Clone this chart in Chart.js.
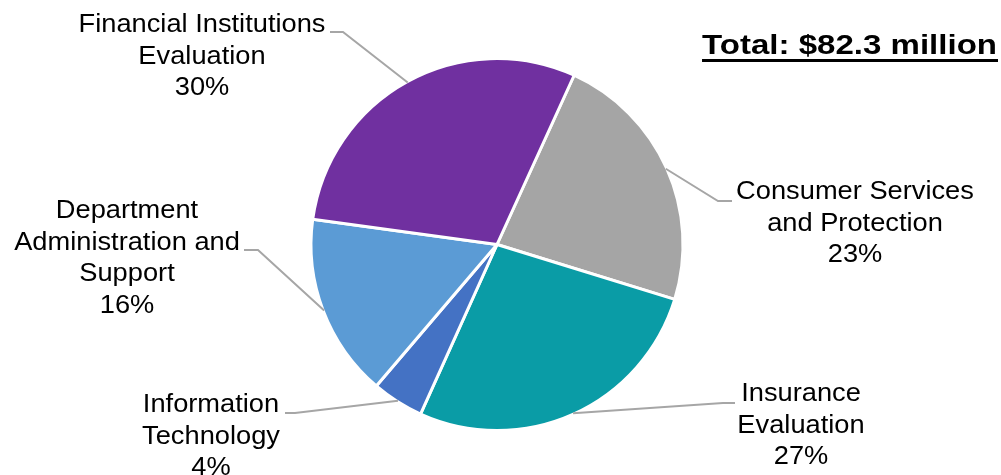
<!DOCTYPE html>
<html>
<head>
<meta charset="utf-8">
<script src="https://cdn.jsdelivr.net/npm/chart.js@4.4.0/dist/chart.umd.min.js"></script>
<style>
  html, body { margin: 0; padding: 0; background: #ffffff; }
  #wrap { width: 1001px; height: 475px; position: relative; }
</style>
</head>
<body>
<div id="wrap"><canvas id="c" width="1001" height="475"></canvas></div>
<script>
// Data (millions of dollars), clockwise order starting just right of 12 o'clock
const categories = [
  ["Consumer Services", "and Protection"],
  ["Insurance", "Evaluation"],
  ["Information", "Technology"],
  ["Department", "Administration and", "Support"],
  ["Financial Institutions", "Evaluation"]
];
const values = [18.9, 22.2, 3.7, 13.1, 24.4];
const colors = ["#A5A5A5", "#0A9CA6", "#4472C4", "#5B9BD5", "#7030A0"];
const titleText = "Total: $82.3 million";

const total = values.reduce((a, b) => a + b, 0);
const percentLabels = values.map(v => Math.round(v / total * 100) + "%");

// Label layout: text centre x, first line centre y, elbow point, line end point
const labelLayout = [
  { x: 855, y: 192, elbow: [718, 201], end: [732, 201] },
  { x: 801, y: 394, elbow: [723, 403], end: [735, 403] },
  { x: 211, y: 405, elbow: [295, 413], end: [285, 413] },
  { x: 127, y: 211, elbow: [258, 250], end: [244, 250] },
  { x: 202, y: 25,  elbow: [343, 32],  end: [330, 32] }
];
const FONT_SIZE = 25;
const SCALE_X = 1.09;
const LINE_H = 31.8;

const labelPlugin = {
  id: 'pieLabels',
  afterDatasetsDraw(chart) {
    const ctx = chart.ctx;
    const meta = chart.getDatasetMeta(0);
    meta.data.forEach((arc, i) => {
      const p = arc.getProps(['x', 'y', 'startAngle', 'endAngle', 'outerRadius'], true);
      const mid = (p.startAngle + p.endAngle) / 2;
      const sx = p.x + Math.cos(mid) * (p.outerRadius - 1);
      const sy = p.y + Math.sin(mid) * (p.outerRadius - 1);
      const L = labelLayout[i];
      ctx.save();
      ctx.strokeStyle = '#A6A6A6';
      ctx.lineWidth = 2;
      ctx.beginPath();
      ctx.moveTo(sx, sy);
      ctx.lineTo(L.elbow[0], L.elbow[1]);
      ctx.lineTo(L.end[0], L.end[1]);
      ctx.stroke();
      ctx.restore();

      const lines = categories[i].concat([percentLabels[i]]);
      ctx.save();
      ctx.fillStyle = '#000000';
      ctx.font = FONT_SIZE + 'px "Liberation Sans", Arial, sans-serif';
      ctx.textAlign = 'center';
      ctx.textBaseline = 'middle';
      lines.forEach((t, k) => {
        ctx.save();
        ctx.translate(L.x, L.y + k * LINE_H);
        ctx.scale(SCALE_X, 1);
        ctx.fillText(t, 0, 0);
        ctx.restore();
      });
      ctx.restore();
    });

    // Title
    ctx.save();
    ctx.fillStyle = '#000000';
    ctx.font = 'bold 28px "Liberation Sans", Arial, sans-serif';
    ctx.textAlign = 'right';
    ctx.textBaseline = 'alphabetic';
    const sxT = 1.18;
    ctx.save();
    ctx.translate(997, 54);
    ctx.scale(sxT, 1);
    ctx.fillText(titleText, 0, 0);
    const w = ctx.measureText(titleText).width * sxT;
    ctx.restore();
    ctx.fillRect(997 - w, 59, w + 1, 3);
    ctx.restore();
  }
};

new Chart(document.getElementById('c'), {
  type: 'pie',
  data: {
    labels: categories.map(c => c.join(' ')),
    datasets: [{
      data: values,
      backgroundColor: colors,
      borderColor: '#FFFFFF',
      borderWidth: 3
    }]
  },
  options: {
    responsive: false,
    animation: false,
    rotation: 24.5,
    layout: { padding: { top: 57, bottom: 43, left: 309, right: 316 } },
    plugins: {
      legend: { display: false },
      tooltip: { enabled: false },
      title: { display: false }
    }
  },
  plugins: [labelPlugin]
});
</script>
</body>
</html>
